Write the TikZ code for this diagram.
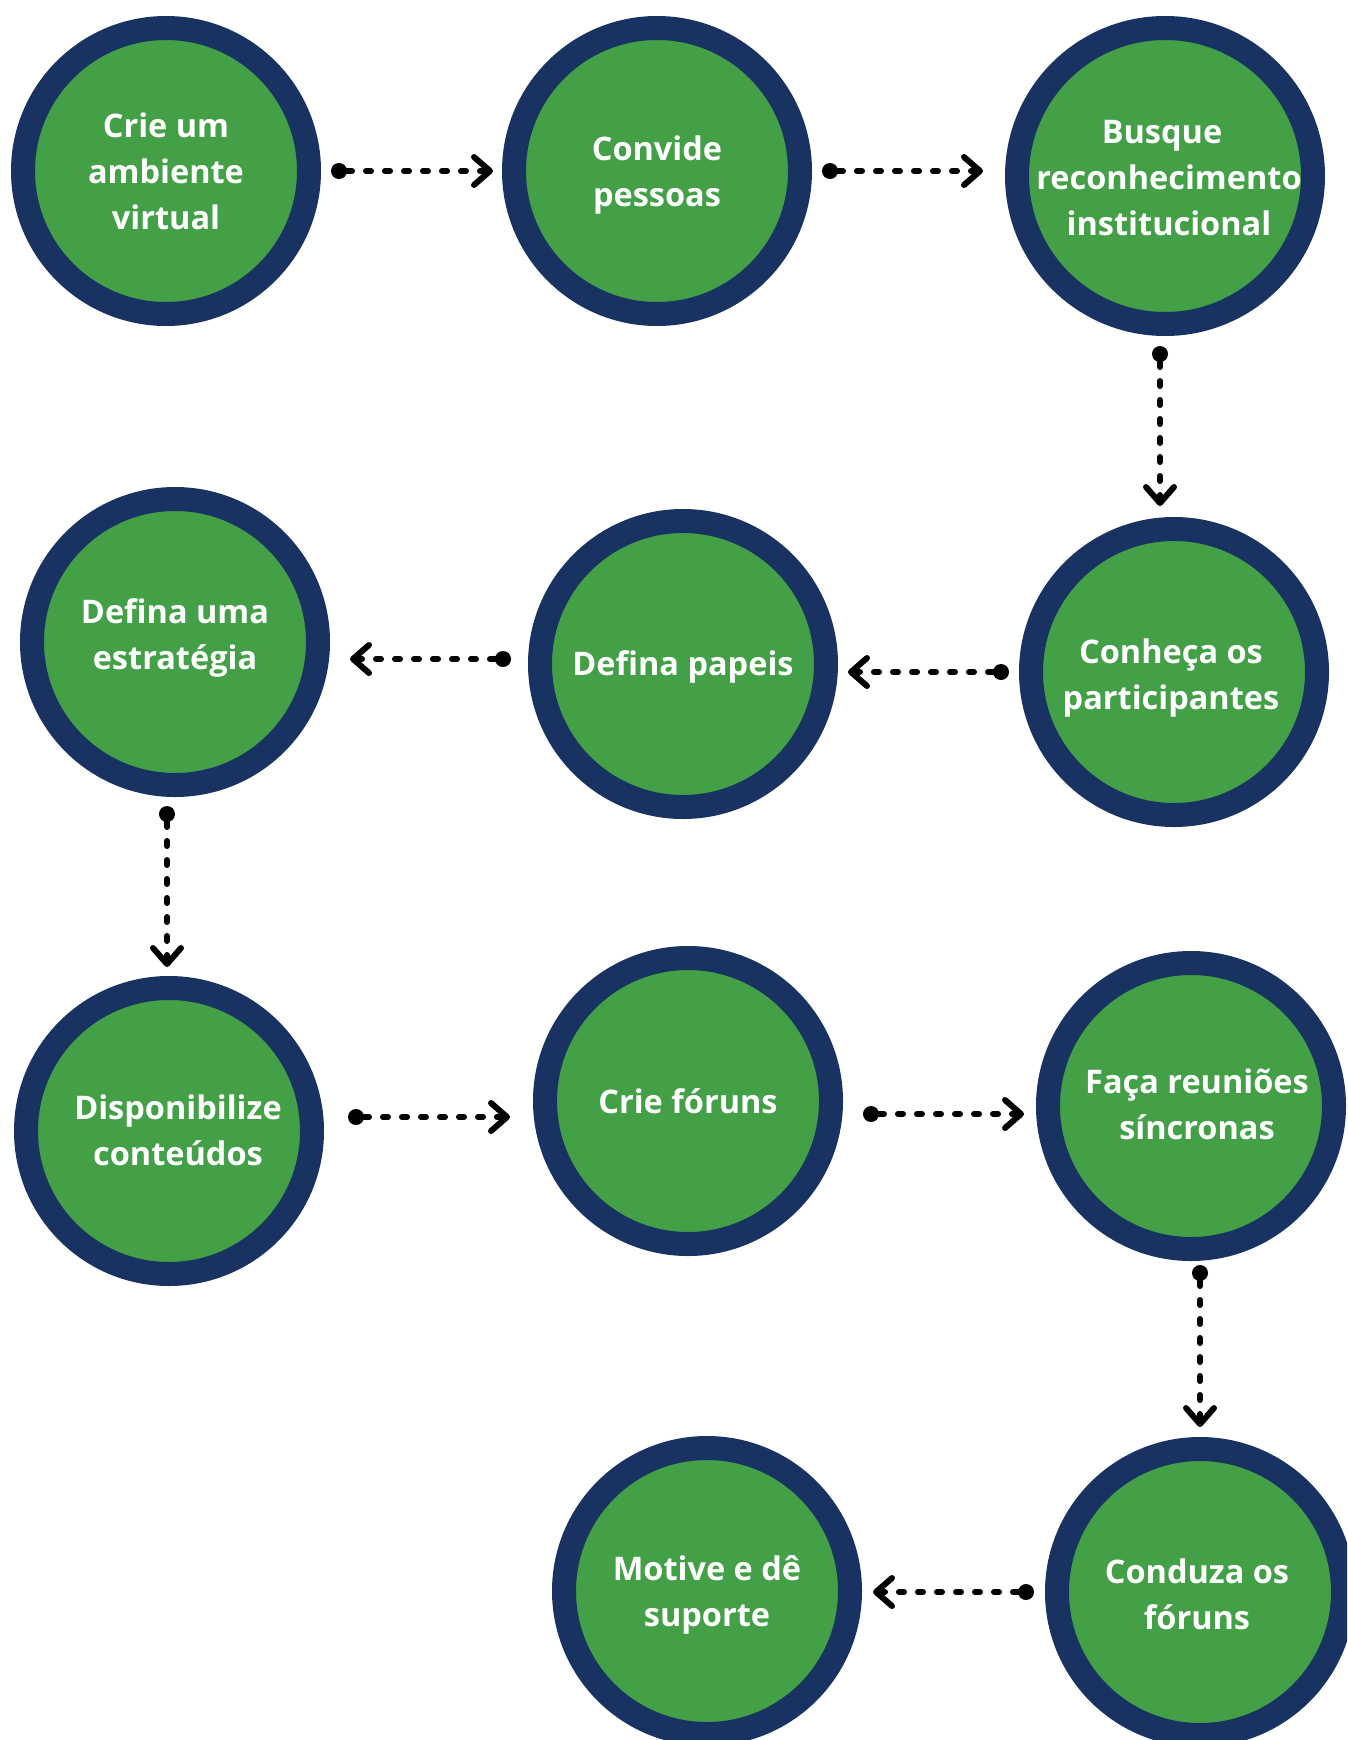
\documentclass[tikz,border=0pt]{standalone}
\usepackage{fontspec}
\setmainfont{Open Sans}
\usetikzlibrary{arrows.meta}
\definecolor{navy}{RGB}{24,50,97}
\definecolor{leaf}{RGB}{67,160,71}
\begin{document}
\begin{tikzpicture}[x=1pt,y=-1pt,
  stage/.style={circle, draw=navy, fill=leaf, line width=24pt, minimum size=286pt, inner sep=0pt},
  bigstage/.style={stage, minimum size=296pt},
  lbl/.style={inner sep=0pt, align=center, text=white,
    font=\fontsize{32.5}{46}\selectfont\bfseries},
  conn/.style={line width=6pt, line cap=round, dash pattern=on 5pt off 14pt,
    {Circle[length=16pt,width=16pt,line width=0pt]}-{Straight Barb[length=16pt,width=28pt,round]}}]
\useasboundingbox (0,0) rectangle (1347,1740);
\clip (0,0) rectangle (1347,1740);
\fill[white] (0,0) rectangle (1347,1740);

\node[stage]    (c1)  at (166,171)  {};
\node[stage]    (c2)  at (657,171)  {};
\node[bigstage] (c3)  at (1165,176) {};
\node[stage]    (c4)  at (1174,672) {};
\node[stage]    (c5)  at (683,664)  {};
\node[stage]    (c6)  at (175,642)  {};
\node[stage]    (c7)  at (169,1131) {};
\node[stage]    (c8)  at (688,1101) {};
\node[stage]    (c9)  at (1191,1106) {};
\node[stage]    (c10) at (1200,1592) {};
\node[stage]    (c11) at (707,1591) {};

\node[lbl] (t1)  at ([shift={(0,0)}]c1)   {Crie um\\ambiente\\virtual};
\node[lbl] (t2)  at ([shift={(0,4)}]c2)   {Convide\\pessoas};
\node[lbl] (t3)  at ([shift={(4,2)}]c3)   {Busque\hspace*{14pt}\\reconhecimento\\institucional};
\node[lbl] (t4)  at ([shift={(-3,6)}]c4)  {Conheça os\\participantes};
\node[lbl] (t5)  at ([shift={(0,3)}]c5)   {Defina papeis};
\node[lbl] (t6)  at ([shift={(0,-4.5)}]c6) {Defina uma\\estratégia};
\node[lbl] (t7)  at ([shift={(9,-1)}]c7)  {Disponibilize\\conteúdos};
\node[lbl] (t8)  at ([shift={(0,0)}]c8)   {Crie fóruns};
\node[lbl] (t9)  at ([shift={(6,-2)}]c9)  {Faça reuniões\\síncronas};
\node[lbl] (t10) at ([shift={(-3,2)}]c10) {Conduza os\\fóruns};
\node[lbl] (t11) at ([shift={(0,4)}]c11)  {Motive e dê\\suporte};

\coordinate (a1s) at (331,171);  \coordinate (a1e) at (493,171);
\coordinate (a2s) at (822,171);  \coordinate (a2e) at (983,171);
\coordinate (a3s) at (1160,346); \coordinate (a3e) at (1160,506);
\coordinate (a4s) at (1009,672); \coordinate (a4e) at (848,672);
\coordinate (a5s) at (511,659);  \coordinate (a5e) at (350,659);
\coordinate (a6s) at (167,806);  \coordinate (a6e) at (167,967);
\coordinate (a7s) at (348,1117); \coordinate (a7e) at (510,1117);
\coordinate (a8s) at (863,1114); \coordinate (a8e) at (1024,1114);
\coordinate (a9s) at (1200,1265); \coordinate (a9e) at (1200,1427);
\coordinate (a10s) at (1034,1592); \coordinate (a10e) at (873,1592);

\foreach \i in {1,...,10} {\draw[conn] (a\i s) -- (a\i e);}
\end{tikzpicture}
\end{document}
